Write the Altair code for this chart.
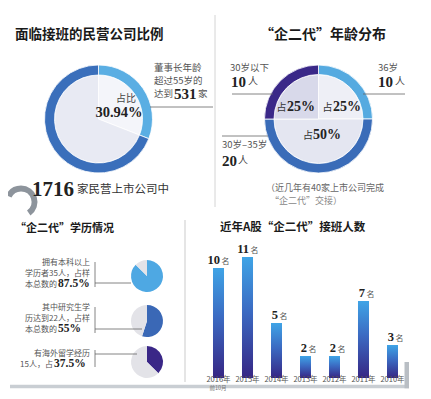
import altair as alt
import pandas as pd

# ---------------- data ----------------
share_labels = ['董事长年龄超过55岁', '其他']
share_values = [30.94, 69.06]

age_groups = ['36岁', '30岁–35岁', '30岁以下']
age_counts = [10, 20, 10]

edu_labels = ['本科以上', '研究生', '海外留学']
edu_pct = [87.5, 55.0, 37.5]

years = ['2016年', '2015年', '2014年', '2013年', '2012年', '2011年', '2010年']
successors = [10, 11, 5, 2, 2, 7, 3]

# ---------------- styling / layout ----------------
W, H = 415, 383
OX, OY = 8, 8
CJK = 'Noto Sans CJK SC'
SERIF = 'Liberation Serif'
one = pd.DataFrame({'k': [0]})


def T(s, x, y, size=10, bold=False, serif=False, color='#444', align='left', baseline='middle'):
    return alt.Chart(one).mark_text(
        text=s, fontSize=size, fontWeight='bold' if bold else 'normal',
        font=SERIF if serif else CJK, color=color, align=align, baseline=baseline
    ).encode(x=alt.value(x - OX), y=alt.value(y - OY))


def R(x1, y1, x2, y2, color='#666', w=0.8):
    return alt.Chart(one).mark_rule(color=color, strokeWidth=w).encode(
        x=alt.value(x1 - OX), y=alt.value(y1 - OY), x2=alt.value(x2 - OX), y2=alt.value(y2 - OY))


def BOX(x1, y1, x2, y2, color):
    return alt.Chart(one).mark_rect(color=color).encode(
        x=alt.value(x1 - OX), y=alt.value(y1 - OY), x2=alt.value(x2 - OX), y2=alt.value(y2 - OY))


def pie(values, colors, cx, cy, r_out, r_in=0, stroke='white', sw=0.8):
    df = pd.DataFrame({'v': values, 'c': colors, 'i': list(range(len(values)))})
    return alt.Chart(df).mark_arc(outerRadius=r_out, innerRadius=r_in, stroke=stroke, strokeWidth=sw).encode(
        theta=alt.Theta('v:Q', stack=True),
        color=alt.Color('c:N', scale=None),
        order=alt.Order('i:Q'),
        x=alt.value(cx - OX), y=alt.value(cy - OY))


layers = []

# ---------- decorations ----------
layers.append(R(215, 15, 215, 207, color='#d4d4d4', w=1))
layers.append(R(185, 220, 185, 382, color='#dcdcdc', w=1.5))
layers.append(pie([145, 150, 65], ['#8d949c', 'transparent', '#8d949c'], 21, 202, 16.5, 10.5, sw=0))

# ---------- panel 1: share ----------
layers.append(T('面临接班的民营公司比例', 15, 35, size=13.5, bold=True, color='#1a1a1a'))
layers.append(pie(share_values, ['#f4f5fa', '#e8eaf3'], 98.5, 119, 44))
layers.append(pie(share_values, ['#5aaee3', '#3a6fbb'], 98.5, 119, 54, 44))
layers.append(T('占比', 116, 99, size=10, color='#444'))
layers.append(T('30.94%', 119, 112.5, size=14.5, bold=True, serif=True, color='#222', align='center'))
layers.append(T('董事长年龄', 154, 68, size=9.5, color='#555'))
layers.append(T('超过55岁的', 154, 81, size=9.5, color='#555'))
layers.append(T('达到', 154, 94, size=9.5, color='#555'))
layers.append(T(str(531), 174, 94, size=15, bold=True, serif=True, color='#222'))
layers.append(T('家', 198, 94, size=9.5, color='#555'))
layers.append(R(150, 107, 213, 107, color='#666'))
layers.append(T('1716', 32, 190, size=21, bold=True, serif=True, color='#222'))
layers.append(T('家民营上市公司中', 77, 190, size=11.5, color='#333'))

# ---------- panel 2: age ----------
layers.append(T('“企二代”年龄分布', 323, 35, size=14, bold=True, color='#1a1a1a', align='center'))
layers.append(pie(age_counts, ['#eeeff6', '#e4e6f1', '#d8d9ea'], 318.5, 119, 44.5))
layers.append(pie(age_counts, ['#55aae0', '#3a6cb8', '#3a2888'], 318.5, 119, 54, 44.5))
layers.append(T('占', 281.5, 107.5, size=10, color='#333', align='center'))
layers.append(T('25%', 287, 107, size=14, bold=True, serif=True, color='#222'))
layers.append(T('占', 327.5, 107.5, size=10, color='#333', align='center'))
layers.append(T('25%', 333, 107, size=14, bold=True, serif=True, color='#222'))
layers.append(T('占', 308, 135.5, size=10, color='#333', align='center'))
layers.append(T('50%', 313, 135, size=14, bold=True, serif=True, color='#222'))
layers.append(T('30岁以下', 230, 68, size=9.5, color='#555'))
layers.append(T('10', 231, 82, size=15, bold=True, serif=True, color='#222'))
layers.append(T('人', 248, 82, size=10, color='#444'))
layers.append(R(232, 94, 273, 94))
layers.append(T('36岁', 378, 68, size=9.5, color='#555'))
layers.append(T('10', 378, 82, size=15, bold=True, serif=True, color='#222'))
layers.append(T('人', 395, 82, size=10, color='#444'))
layers.append(R(363, 94, 405, 94))
layers.append(T('30岁–35岁', 222, 145, size=9.5, color='#555'))
layers.append(T('20', 222, 161, size=15, bold=True, serif=True, color='#222'))
layers.append(T('人', 238, 161, size=10, color='#444'))
layers.append(R(222, 136, 268, 136))
layers.append(T('（近几年有40家上市公司完成', 266, 188, size=9, color='#666'))
layers.append(T('“企二代”交接）', 270, 201, size=9, color='#888'))

# ---------- panel 3: education ----------
layers.append(T('“企二代”学历情况', 15, 229, size=11, bold=True, color='#1a1a1a'))
edu_colors = ['#4ea8e3', '#3a68b6', '#3a2787']
edu_cy = [276, 321, 362]
for p, c, cy in zip(edu_pct, edu_colors, edu_cy):
    layers.append(pie([p, 100 - p], [c, '#e3e3e8'], 147, cy, 16, 0, sw=0))
layers.append(T('拥有本科以上', 90, 263, size=8, color='#555', align='right'))
layers.append(T('学历者35人，占样', 90, 273.5, size=8, color='#555', align='right'))
layers.append(T('本总数的', 57, 284.5, size=8, color='#555', align='right'))
layers.append(T('87.5%', 58, 284, size=11.5, bold=True, serif=True, color='#222'))
layers.append(R(95, 262, 95, 287))
layers.append(R(95, 283, 131, 283))
layers.append(T('其中研究生学', 90, 308, size=8, color='#555', align='right'))
layers.append(T('历达到22人，占样', 90, 318.5, size=8, color='#555', align='right'))
layers.append(T('本总数的', 57, 329.5, size=8, color='#555', align='right'))
layers.append(T('55%', 58, 329, size=11.5, bold=True, serif=True, color='#222'))
layers.append(R(95, 307, 95, 333))
layers.append(R(95, 329, 142, 329))
layers.append(T('有海外留学经历', 90, 354, size=8, color='#555', align='right'))
layers.append(T('15人，占', 53, 364.5, size=8, color='#555', align='right'))
layers.append(T('37.5%', 54, 364, size=11.5, bold=True, serif=True, color='#222'))
layers.append(R(95, 350, 95, 367))
layers.append(R(95, 354, 137, 354))

# ---------- panel 4: successors per year ----------
layers.append(T('近年A股“企二代”接班人数', 220, 228, size=11.5, bold=True, color='#1a1a1a'))
bars_df = pd.DataFrame({'year': years, 'n': successors})
xs = alt.Scale(domain=years, range=[204 - OX, 407 - OX], paddingInner=0.62, paddingOuter=0.31)
ys = alt.Scale(domain=[0, 11], range=[378 - OY, 257 - OY], nice=False, zero=True)
grad = alt.Gradient(gradient='linear', x1=0, x2=0, y1=0, y2=1, stops=[
    alt.GradientStop(color='#3fa4e6', offset=0),
    alt.GradientStop(color='#3b6ac2', offset=0.45),
    alt.GradientStop(color='#362684', offset=1)])
base = alt.Chart(bars_df)
layers.append(base.mark_bar(color=grad).encode(
    x=alt.X('year:N', scale=xs, axis=None, sort=years),
    y=alt.Y('n:Q', scale=ys, axis=None)))
layers.append(base.mark_text(font=SERIF, fontWeight='bold', fontSize=12.5, color='#222', align='right',
                             baseline='alphabetic', dx=1.5, dy=-4).encode(
    x=alt.X('year:N', scale=xs, axis=None, sort=years),
    y=alt.Y('n:Q', scale=ys, axis=None), text='n:Q'))
layers.append(base.mark_text(font=CJK, fontSize=8, color='#555', align='left',
                             baseline='alphabetic', dx=3, dy=-4).encode(
    x=alt.X('year:N', scale=xs, axis=None, sort=years),
    y=alt.Y('n:Q', scale=ys, axis=None), text=alt.value('名')))
layers.append(base.mark_text(font=CJK, fontSize=7.5, color='#555', align='center').encode(
    x=alt.X('year:N', scale=xs, axis=None, sort=years),
    y=alt.value(380.2 - OY), text='year:N'))

# bottom shadow band
layers.append(BOX(10, 384.8, 409, 388.3, '#c9ced3'))
layers.append(BOX(404.5, 362, 409, 388.3, '#b9bec4'))
layers.append(T('前10月', 218, 387.6, size=5.5, color='#777', align='center'))

chart = alt.layer(*layers).resolve_scale(
    x='independent', y='independent', theta='independent'
).properties(width=W, height=H, padding=0, autosize='none', background='white'
).configure_view(stroke=None)

chart.save('out.html', embed_options={'renderer': 'svg', 'actions': False})
